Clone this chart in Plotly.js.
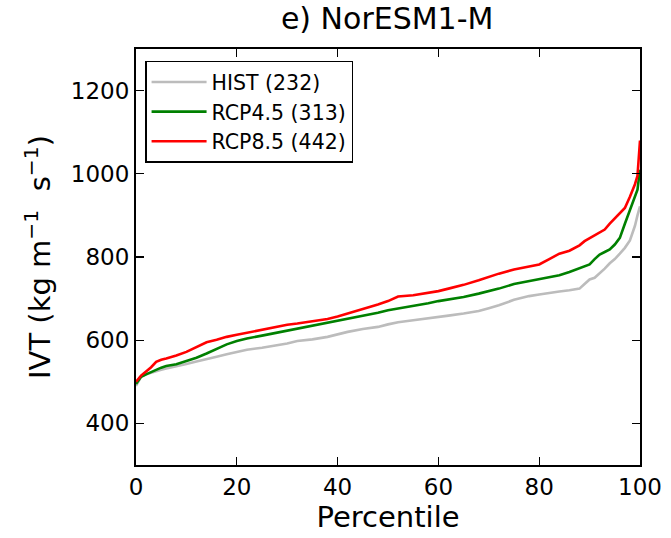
<!DOCTYPE html>
<html>
<head>
<meta charset="utf-8">
<script src="https://cdn.plot.ly/plotly-3.0.1.min.js"></script>
<style>html,body{margin:0;padding:0;background:#fff;}#chart{width:671px;height:538px;}</style>
</head>
<body>
<div id="chart"></div>
<script>
const percentiles = [0,1,2,3,4,5,6,8,10,12,14,16,18,20,22,25,28,30,32,35,38,40,42,45,48,50,52,55,58,60,62,65,68,70,72,75,78,80,82,84,86,88,89,90,91,92,93,94,95,96,97,98,99,99.5,100];
const hist = [490,512,518,522,526,529,532,537,543,549,554,560,566,572,577,582,587,592,598,602,608,614,620,627,632,638,643,648,652,656,659,664,670,677,684,697,706,710,714,717,720,724,735,746,750,760,772,785,795,808,822,840,875,900,922];
const rcp45 = [495,512,518,524,530,534,538,542,550,558,568,580,590,598,604,611,618,624,628,634,641,646,651,658,666,672,676,683,689,694,698,704,712,718,724,735,742,748,752,756,764,773,778,782,795,806,812,818,830,846,880,915,945,962,1010];
const rcp85 = [500,515,525,535,548,553,556,563,572,584,595,601,608,613,618,626,632,637,640,645,651,657,664,675,686,694,705,708,713,718,724,733,744,752,760,770,777,782,795,808,815,828,838,845,853,860,866,880,893,905,918,945,975,995,1080];
const seriesNames = ["HIST (232)", "RCP4.5 (313)", "RCP8.5 (442)"];
const seriesColors = ["#bcbcbc", "#008000", "#ff0000"];
const xTicks = [0,20,40,60,80,100];
const yTicks = [400,600,800,1000,1200];

const allY = [hist, rcp45, rcp85];
const traces = allY.map((y, i) => ({
  x: percentiles, y: y, type: "scatter", mode: "lines",
  name: seriesNames[i],
  line: {color: seriesColors[i], width: 2.6}
}));

const font = "DejaVu Sans, sans-serif";
const layout = {
  width: 671, height: 538,
  margin: {l: 136, r: 31, t: 49, b: 73},
  paper_bgcolor: "#fff", plot_bgcolor: "#fff",
  font: {family: font, color: "#000"},
  title: {text: "e) NorESM1-M", font: {size: 30, family: font, color: "#000"}, x: 0.577, xanchor: "center", y: 0.985, yanchor: "top"},
  showlegend: true,
  legend: {x: 0.018, y: 0.972, xanchor: "left", yanchor: "top", bgcolor: "#fff",
           bordercolor: "#000", borderwidth: 1.5, itemwidth: 55,
           font: {size: 20.5, family: font, color: "#000"}},
  xaxis: {range: [0, 100], tickvals: xTicks, ticktext: xTicks.map(String),
          showline: true, linecolor: "#000", linewidth: 2, mirror: "ticks",
          ticks: "inside", ticklen: 8, tickwidth: 1.3, tickcolor: "#000",
          showgrid: false, zeroline: false, tickfont: {size: 23, family: font},
          title: {text: "Percentile", font: {size: 29, family: font}, standoff: 8}},
  yaxis: {range: [300, 1300], tickvals: yTicks, ticktext: yTicks.map(String),
          showline: true, linecolor: "#000", linewidth: 2, mirror: "ticks",
          ticks: "inside", ticklen: 8, tickwidth: 1.3, tickcolor: "#000",
          showgrid: false, zeroline: false, tickfont: {size: 23, family: font},
          title: {text: "IVT (kg m<sup>\u22121</sup>  s<sup>\u22121</sup>)", font: {size: 29, family: font}, standoff: 12}}
};
Plotly.newPlot("chart", traces, layout, {displayModeBar: false, staticPlot: true});
</script>
</body>
</html>
